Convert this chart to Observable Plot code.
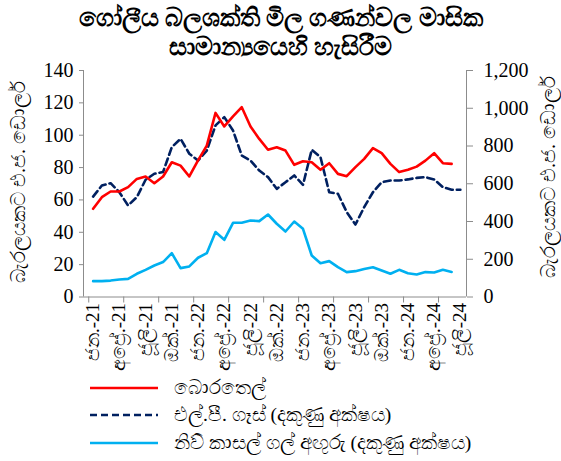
<!DOCTYPE html>
<html><head><meta charset="utf-8">
<script src="https://cdn.jsdelivr.net/npm/d3@7"></script>
<script src="https://cdn.jsdelivr.net/npm/@observablehq/plot@0.6"></script>
<style>
body{margin:0;background:#fff;font-family:"Liberation Serif","Times New Roman",serif;color:#000;}
#wrap{position:relative;width:561px;height:461px;overflow:hidden;}
#title{position:absolute;left:0;top:3px;width:561px;text-align:center;font-size:25px;line-height:29px;font-weight:bold;}
#chart{position:absolute;left:0;top:60px;}
#ytitles{position:absolute;left:0;top:0;}
#legend{position:absolute;left:90px;top:374px;font-size:19.5px;}
.item{display:flex;align-items:center;height:27.5px;}
.item svg{margin-right:14px;}
</style></head>
<body><div id="wrap">
<div id="title">ගෝලීය බලශක්ති මිල ගණන්වල මාසික<br>සාමාන්‍යයෙහි හැසිරීම</div>
<div id="chart"></div>
<svg id="ytitles" width="561" height="461" font-size="20" fill="#000" text-anchor="middle" font-family="Liberation Serif, serif">
  <text id="yl" transform="translate(25,182) rotate(-90)">බැරලයකට එ.ජ. ඩොලර්</text>
  <text id="yr" transform="translate(555,177) rotate(-90)">බැරලයකට එ.ජ. ඩොලර්</text>
</svg>
<div id="legend"></div>
</div>
<script>
// Monthly averages, Jan 2021 onward
const crudeOil = [54.5, 61.7, 65.2, 65.2, 67.9, 73, 74.5, 70.3, 74.5, 83.3, 81.2, 74.5,
  84.4, 93.6, 113.8, 105.4, 111.6, 117.3, 105.4, 97.7, 91, 92.6, 90.5, 81.7,
  83.9, 83.3, 78.6, 82.7, 76.1, 74.7, 80.3, 85.4, 92, 88.9, 82.3, 77.2,
  78.6, 80.6, 84.3, 88.9, 82.7, 82.3];
const lpGas = [532, 591, 603, 555, 485, 529, 621, 653, 662, 794, 838, 759,
  723, 776, 909, 953, 882, 750, 723, 670, 635, 573, 608, 644,
  594, 780, 741, 555, 547, 450, 384, 476, 555, 608, 617, 617,
  623, 631, 635, 623, 582, 568, 568];
const coal = [84, 84, 87, 93, 96, 123, 144, 167, 185, 232, 153, 162,
  208, 232, 344, 303, 393, 393, 405, 402, 437, 388, 347, 400,
  361, 220, 179, 190, 158, 132, 137, 148, 158, 140, 123, 144,
  126, 119, 132, 130, 144, 133];
const tickLabels = ["ජන.-21","අප්‍රේ.-21","ජූලි-21","ඔක්.-21",
  "ජන.-22","අප්‍රේ.-22","ජූලි-22","ඔක්.-22",
  "ජන.-23","අප්‍රේ.-23","ජූලි-23","ඔක්.-23",
  "ජන.-24","අප්‍රේ.-24","ජූලි-24"];
const seriesNames = ["බොරතෙල්", "එල්.පී. ගෑස් (දකුණු අක්ෂය)", "නිව් කාසල් ගල් අඟුරු (දකුණු අක්ෂය)"];
const colors = ["#ff0000", "#002060", "#00b0f0"];
const leftTicks = [0, 20, 40, 60, 80, 100, 120, 140];
const rightTicks = [0, 200, 400, 600, 800, 1000, 1200];

const k = 140 / 1200; // right axis -> left axis units
const rows = (arr, s, f) => arr.map((v, i) => ({i, v: v * f, s}));
const data = [...rows(crudeOil, 0, 1), ...rows(lpGas, 1, k), ...rows(coal, 2, k)];
const nMonths = lpGas.length;
const xDomain = [-1.1, nMonths - 0.3];
const labelPos = tickLabels.map((_, j) => j * 3);
const boundaryPos = d3.range(-0.5, nMonths - 1, 4);
const axisColor = "#8c8c8c";

const chart = Plot.plot({
  width: 561, height: 312,
  marginTop: 10, marginBottom: 75.5, marginLeft: 83, marginRight: 95,
  style: {fontFamily: "Liberation Serif, serif", fontSize: "20px", color: "#000", background: "transparent"},
  x: {domain: xDomain, axis: null},
  y: {domain: [0, 140], axis: null},
  marks: [
    Plot.ruleX([xDomain[0]], {stroke: axisColor, strokeWidth: 1}),
    Plot.ruleX([xDomain[1]], {stroke: axisColor, strokeWidth: 1}),
    Plot.ruleY([0], {stroke: axisColor, strokeWidth: 1}),
    Plot.axisY({anchor: "left", ticks: leftTicks, tickSize: 4, tickPadding: 6, stroke: axisColor, fontSize: 20, label: null}),
    Plot.axisY({anchor: "right", ticks: rightTicks.map(t => t * k), tickFormat: t => d3.format(",")(Math.round(t / k)), tickSize: 6, tickPadding: 11, stroke: axisColor, fontSize: 20, label: null, textAnchor: "start"}),
    Plot.axisX({ticks: boundaryPos, tickFormat: () => "", tickSize: 6, stroke: axisColor, label: null}),
    Plot.axisX({ticks: labelPos, tickFormat: (d) => tickLabels[Math.round(d / 3)], tickSize: 0, tickPadding: 6, tickRotate: -90, fontSize: 19, label: null}),
    Plot.line(data.filter(d => d.s === 2), {x: "i", y: "v", stroke: colors[2], strokeWidth: 2.6}),
    Plot.line(data.filter(d => d.s === 1), {x: "i", y: "v", stroke: colors[1], strokeWidth: 2.6, strokeDasharray: "7,4"}),
    Plot.line(data.filter(d => d.s === 0), {x: "i", y: "v", stroke: colors[0], strokeWidth: 2.6})
  ]
});
document.getElementById("chart").appendChild(chart);

// legend
const leg = document.getElementById("legend");
seriesNames.forEach((name, j) => {
  const item = document.createElement("div");
  item.className = "item";
  item.innerHTML = `<svg width="70" height="6"><line x1="0" y1="3" x2="68" y2="3" stroke="${colors[j]}" stroke-width="2.6" ${j === 1 ? 'stroke-dasharray="7,4"' : ''}/></svg><span>${name}</span>`;
  leg.appendChild(item);
});
</script>
</body></html>
